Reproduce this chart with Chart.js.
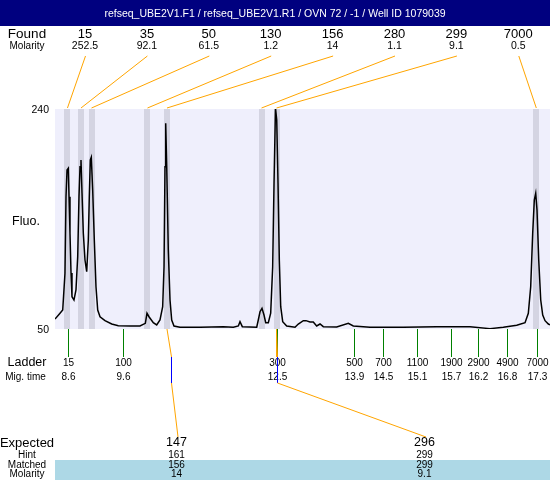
<!DOCTYPE html>
<html>
<head>
<meta charset="utf-8">
<script src="https://cdn.jsdelivr.net/npm/chart.js@4.4.1/dist/chart.umd.min.js"></script>
<style>
html, body { margin: 0; padding: 0; background: #ffffff; }
#wrap { width: 550px; height: 480px; position: relative; }
</style>
</head>
<body>
<div id="wrap"><canvas id="c" width="550" height="480"></canvas></div>
<script>
// ---------- data ----------
const chartTitle = 'refseq_UBE2V1.F1 / refseq_UBE2V1.R1 / OVN 72 / -1 / Well ID 1079039';

const foundSizes    = ['15', '35', '50', '130', '156', '280', '299', '7000'];
const foundMolarity = ['252.5', '92.1', '61.5', '1.2', '14', '1.1', '9.1', '0.5'];
const foundTimes    = [8.611, 8.862, 9.057, 10.095, 10.457, 12.210, 12.488, 17.306];

const ladderSizes = ['15', '100', '300', '500', '700', '1100', '1900', '2900', '4900', '7000'];
const ladderTimes = [8.63, 9.64, 12.49, 13.93, 14.47, 15.09, 15.72, 16.23, 16.77, 17.31];
const ladderMatchedSize = '300';

const expectedSizes   = ['147', '296'];
const hintSizes       = ['161', '299'];
const matchedSizes    = ['156', '299'];
const matchedMolarity = ['14', '9.1'];
const matchedTimes    = [10.457, 12.488];
const hintTimes       = [10.53, 12.49];

const yTicks = [50, 240];
const timeRange = [8.38, 17.56];

const traceTime = [
  8.380, 8.473, 8.523, 8.565, 8.584, 8.603, 8.627, 8.640, 8.658, 8.677,
  8.695, 8.732, 8.769, 8.801, 8.825, 8.844, 8.862, 8.881, 8.905, 8.936,
  8.968, 8.998, 9.016, 9.035, 9.053, 9.079, 9.109, 9.140, 9.172, 9.215,
  9.307, 9.432, 9.554, 9.771, 9.956, 10.055, 10.086, 10.123, 10.203, 10.266,
  10.327, 10.377, 10.402, 10.420, 10.433, 10.452, 10.481, 10.513, 10.544, 10.587,
  10.698, 11.069, 11.501, 11.687, 11.780, 11.811, 11.854, 12.121, 12.150, 12.182,
  12.219, 12.256, 12.288, 12.336, 12.380, 12.417, 12.442, 12.469, 12.492, 12.516,
  12.540, 12.566, 12.603, 12.677, 12.831, 12.892, 12.985, 13.035, 13.109, 13.170,
  13.233, 13.295, 13.356, 13.604, 13.820, 13.912, 14.222, 14.840, 15.459, 16.077,
  16.447, 16.694, 16.943, 17.097, 17.158, 17.202, 17.239, 17.269, 17.295, 17.319,
  17.351, 17.388, 17.425, 17.468, 17.529, 17.560
];
const traceFluo = [
  58.6, 63.6, 66.4, 98.1, 164.3, 187.3, 188.8, 164.3, 132.9, 98.4,
  77.9, 75.0, 83.7, 112.4, 164.3, 190.2, 196.0, 167.5, 132.9, 109.6,
  99.5, 126.9, 164.3, 196.0, 198.3, 170.0, 126.9, 86.5, 66.4, 60.6,
  57.2, 54.3, 52.9, 52.6, 52.6, 54.9, 63.6, 60.6, 55.4, 53.5,
  57.8, 69.3, 103.8, 190.2, 227.6, 190.2, 118.2, 75.0, 57.8, 52.6,
  51.5, 51.5, 52.0, 51.5, 52.6, 56.3, 52.0, 51.5, 57.8, 64.9,
  67.9, 62.1, 55.4, 55.4, 63.6, 103.8, 175.8, 241.0, 230.5, 175.8,
  109.6, 69.3, 56.3, 52.6, 51.5, 54.3, 57.2, 57.2, 56.0, 56.0,
  52.6, 54.3, 52.0, 51.7, 54.9, 52.6, 51.5, 51.5, 52.0, 52.0,
  50.3, 51.5, 53.2, 55.4, 63.6, 86.5, 132.6, 161.4, 167.2, 152.8,
  109.6, 75.0, 62.1, 57.2, 54.3, 53.7
];

// ---------- styles ----------
const FONT = "'Liberation Sans', Arial, sans-serif";
const ORANGE = '#ffa500';
const GREEN = '#008000';
const BLUE = '#0000ff';

function txt(ctx, s, x, y, size, align, color) {
  ctx.save();
  ctx.font = size + 'px ' + FONT;
  ctx.fillStyle = color || '#000000';
  ctx.textAlign = align || 'center';
  ctx.textBaseline = 'middle';
  ctx.fillText(s, x, y);
  ctx.restore();
}
function line(ctx, x1, y1, x2, y2, color, w) {
  ctx.save();
  ctx.strokeStyle = color;
  ctx.lineWidth = w || 1;
  ctx.beginPath();
  ctx.moveTo(x1, y1);
  ctx.lineTo(x2, y2);
  ctx.stroke();
  ctx.restore();
}

const decorPlugin = {
  id: 'decor',
  beforeDraw(chart) {
    const ctx = chart.ctx, a = chart.chartArea;
    ctx.save();
    ctx.fillStyle = '#ffffff';
    ctx.fillRect(0, 0, chart.width, chart.height);
    ctx.fillStyle = '#00007f';
    ctx.fillRect(0, 0, chart.width, 26);
    ctx.fillStyle = '#efeffc';
    ctx.fillRect(a.left, a.top, a.right - a.left, a.bottom - a.top);
    ctx.restore();
    txt(ctx, chartTitle, chart.width / 2, 14, 10.5, 'center', '#ffffff');
  },
  beforeDatasetsDraw(chart) {
    const ctx = chart.ctx, a = chart.chartArea, xs = chart.scales.x;
    ctx.save();
    ctx.fillStyle = '#d4d4e2';
    foundTimes.forEach(t => {
      const px = xs.getPixelForValue(t);
      ctx.fillRect(Math.round(px) - 3, a.top, 6, a.bottom - a.top);
    });
    ctx.restore();
  },
  afterDraw(chart) {
    const ctx = chart.ctx, a = chart.chartArea, xs = chart.scales.x, ys = chart.scales.y;
    const labelX = 27;

    // Found row
    txt(ctx, 'Found', labelX, 34, 13.5);
    txt(ctx, 'Molarity', labelX, 46.5, 10);
    const step = 61.9;
    foundSizes.forEach((s, i) => {
      const cx = 85 + i * step;
      txt(ctx, s, cx, 34, 13);
      txt(ctx, foundMolarity[i], cx, 46.5, 10.5);
      const bx = xs.getPixelForValue(foundTimes[i]);
      line(ctx, cx + 0.5, 56, bx, a.top - 1, ORANGE, 1);
    });

    // Y labels
    yTicks.forEach(v => {
      txt(ctx, String(v), 49, ys.getPixelForValue(v) + 1, 10.5, 'right');
    });
    txt(ctx, 'Fluo.', 26, 222, 12.5);

    // Ladder
    const tickTop = a.bottom, tickBot = 357;
    txt(ctx, 'Ladder', labelX, 363, 12.5);
    txt(ctx, 'Mig. time', 25.5, 377, 10);
    ladderSizes.forEach((s, i) => {
      const px = Math.round(xs.getPixelForValue(ladderTimes[i])) + 0.5;
      line(ctx, px, tickTop, px, tickBot, GREEN, 1);
      if (s === ladderMatchedSize) line(ctx, px - 1, tickTop, px - 1, tickBot, ORANGE, 1);
      txt(ctx, s, px, 363, 10);
      txt(ctx, ladderTimes[i].toFixed(1), px, 377, 10);
    });

    // Expected table
    ctx.save();
    ctx.fillStyle = '#add8e6';
    ctx.fillRect(a.left, 460, chart.width - a.left, 20);
    ctx.restore();
    txt(ctx, 'Expected', labelX, 443, 13);
    txt(ctx, 'Hint', labelX, 455, 10);
    txt(ctx, 'Matched', labelX, 465, 10);
    txt(ctx, 'Molarity', labelX, 474, 10);
    const expX = [176.5, 424.5];
    expectedSizes.forEach((s, i) => {
      txt(ctx, s, expX[i], 443, 12.5);
      txt(ctx, hintSizes[i], expX[i], 455, 10);
      txt(ctx, matchedSizes[i], expX[i], 465, 10);
      txt(ctx, matchedMolarity[i], expX[i], 474, 10);
      const mx = xs.getPixelForValue(matchedTimes[i]);
      const hx = Math.round(xs.getPixelForValue(hintTimes[i])) + 0.5;
      line(ctx, mx, a.bottom, hx, tickBot, ORANGE, 1);
      line(ctx, hx, tickBot, hx, 383, BLUE, 1);
      line(ctx, hx, 383, expX[i] + 1.5, 437, ORANGE, 1);
    });
  }
};

const points = traceTime.map((t, i) => ({ x: t, y: traceFluo[i] }));

new Chart(document.getElementById('c'), {
  type: 'line',
  data: {
    datasets: [{
      data: points,
      borderColor: '#000000',
      borderWidth: 1.5,
      pointRadius: 0,
      tension: 0,
      fill: false
    }]
  },
  options: {
    responsive: false,
    animation: false,
    events: [],
    layout: { padding: { left: 55, right: 0, top: 109, bottom: 151 } },
    plugins: {
      legend: { display: false },
      tooltip: { enabled: false },
      title: { display: false }
    },
    scales: {
      x: { type: 'linear', min: timeRange[0], max: timeRange[1], display: false },
      y: { type: 'linear', min: yTicks[0], max: yTicks[1], display: false }
    }
  },
  plugins: [decorPlugin]
});
</script>
</body>
</html>
